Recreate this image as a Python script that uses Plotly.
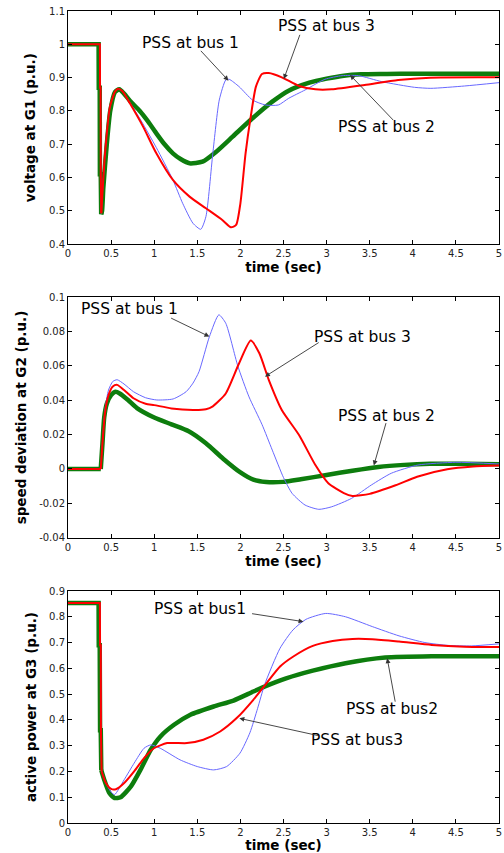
import plotly.graph_objects as go

# ---------------- data ----------------
# Panel 1: voltage at G1 (p.u.)
v_t_bus2 = [0, 0.355, 0.357, 0.368, 0.370, 0.38, 0.385, 0.395, 0.41, 0.45, 0.49, 0.545, 0.595, 0.65,
            0.72, 0.833, 0.93, 1.025, 1.12, 1.217, 1.31, 1.41, 1.56, 1.72, 1.91, 2.14, 2.37, 2.56,
            2.8, 3.0, 3.2, 3.4, 3.7, 4.0, 4.5, 5.0]
v_bus2 = [1.0, 1.0, 0.87, 0.87, 0.61, 0.61, 0.49, 0.50, 0.57, 0.70, 0.80, 0.857, 0.865, 0.852,
          0.83, 0.80, 0.768, 0.733, 0.70, 0.673, 0.655, 0.643, 0.648, 0.678, 0.723, 0.778, 0.828, 0.861,
          0.885, 0.897, 0.906, 0.91, 0.911, 0.912, 0.912, 0.912]

v_t_bus3 = [0, 0.37, 0.372, 0.378, 0.38, 0.386, 0.392, 0.43, 0.487, 0.545, 0.58, 0.63, 0.718, 0.871,
            1.025, 1.217, 1.41, 1.6, 1.79, 1.89, 1.95, 2.0, 2.06, 2.12, 2.18, 2.25, 2.33, 2.48,
            2.68, 2.87, 3.06, 3.44, 3.83, 4.2, 5.0]
v_bus3 = [1.0, 1.0, 0.87, 0.87, 0.61, 0.493, 0.52, 0.674, 0.813, 0.858, 0.867, 0.86, 0.823, 0.753,
          0.673, 0.593, 0.543, 0.508, 0.473, 0.451, 0.458, 0.523, 0.673, 0.783, 0.873, 0.911, 0.914, 0.901,
          0.875, 0.865, 0.865, 0.878, 0.893, 0.9, 0.901]

v_t_bus1 = [0, 0.37, 0.372, 0.378, 0.38, 0.386, 0.392, 0.43, 0.487, 0.545, 0.58, 0.63, 0.718, 0.85,
            1.025, 1.217, 1.33, 1.45, 1.54, 1.6, 1.68, 1.755, 1.83, 1.87, 1.985, 2.14, 2.29, 2.44,
            2.56, 2.75, 2.98, 3.18, 3.37, 3.64, 4.02, 4.21, 4.6, 5.0]
v_bus1 = [1.0, 1.0, 0.87, 0.87, 0.61, 0.493, 0.52, 0.674, 0.813, 0.858, 0.867, 0.86, 0.825, 0.77,
          0.69, 0.593, 0.523, 0.463, 0.445, 0.483, 0.673, 0.833, 0.893, 0.895, 0.873, 0.833, 0.818, 0.818,
          0.838, 0.863, 0.895, 0.906, 0.906, 0.888, 0.871, 0.868, 0.875, 0.885]

# Panel 2: speed deviation at G2 (p.u.)
s_t_bus2 = [0, 0.38, 0.40, 0.42, 0.45, 0.5, 0.55, 0.6, 0.7, 0.8, 1.0, 1.2, 1.4, 1.6, 1.8, 2.0,
            2.15, 2.3, 2.5, 2.7, 3.0, 3.3, 3.6, 3.9, 4.2, 4.6, 5.0]
s_bus2 = [0, 0, 0.015, 0.03, 0.038, 0.043, 0.045, 0.044, 0.040, 0.0355, 0.030, 0.026, 0.022, 0.015,
          0.006, -0.002, -0.0062, -0.0076, -0.0075, -0.006, -0.0035, -0.001, 0.0012, 0.0024, 0.003,
          0.003, 0.0027]

s_t_bus3 = [0, 0.38, 0.40, 0.43, 0.47, 0.52, 0.57, 0.65, 0.76, 0.9, 1.0, 1.2, 1.45, 1.6, 1.68, 1.83,
            1.98, 2.12, 2.22, 2.33, 2.48, 2.68, 2.87, 3.02, 3.2, 3.3, 3.5, 3.8, 4.05, 4.4, 4.7, 5.0]
s_bus3 = [0, 0, 0.015, 0.033, 0.043, 0.048, 0.049, 0.046, 0.0412, 0.038, 0.0372, 0.0353, 0.0344,
          0.0348, 0.0365, 0.044, 0.061, 0.0748, 0.0674, 0.0518, 0.0344, 0.0198, 0.0023, -0.0083,
          -0.014, -0.0157, -0.0145, -0.0095, -0.0045, -0.0002, 0.0014, 0.002]

s_t_bus1 = [0, 0.38, 0.40, 0.43, 0.47, 0.52, 0.57, 0.65, 0.76, 0.9, 1.03, 1.22, 1.37, 1.45, 1.52,
            1.64, 1.75, 1.83, 1.97, 2.1, 2.25, 2.37, 2.5, 2.6, 2.75, 2.91, 3.06, 3.29, 3.52, 3.75,
            4.06, 4.5, 5.0]
s_bus1 = [0, 0, 0.016, 0.035, 0.046, 0.051, 0.052, 0.0495, 0.045, 0.0415, 0.0402, 0.0408, 0.045,
          0.050, 0.0567, 0.077, 0.0898, 0.0849, 0.060, 0.042, 0.026, 0.011, -0.005, -0.0142, -0.021,
          -0.0235, -0.022, -0.0171, -0.0093, -0.0025, 0.0023, 0.0039, 0.0029]

# Panel 3: active power at G3 (p.u.)
p_t_bus2 = [0, 0.355, 0.357, 0.368, 0.372, 0.38, 0.386, 0.42, 0.48, 0.54, 0.61, 0.73, 0.84, 0.96,
            1.07, 1.23, 1.42, 1.69, 1.92, 2.15, 2.3, 2.53, 2.84, 3.22, 3.68, 4.22, 5.0]
p_bus2 = [0.853, 0.853, 0.69, 0.69, 0.36, 0.36, 0.205, 0.168, 0.116, 0.097, 0.1, 0.142, 0.206,
          0.284, 0.335, 0.381, 0.42, 0.452, 0.475, 0.51, 0.532, 0.561, 0.591, 0.62, 0.642, 0.647, 0.647]

p_t_bus3 = [0, 0.37, 0.372, 0.38, 0.382, 0.39, 0.44, 0.5, 0.556, 0.652, 0.767, 0.882, 0.997, 1.15,
            1.38, 1.57, 1.765, 1.957, 2.15, 2.3, 2.46, 2.61, 2.84, 3.07, 3.3, 3.53, 3.84, 4.22, 4.6, 5.0]
p_bus3 = [0.853, 0.853, 0.69, 0.69, 0.36, 0.2, 0.155, 0.132, 0.131, 0.155, 0.2, 0.252, 0.29, 0.31,
          0.31, 0.323, 0.355, 0.407, 0.478, 0.541, 0.607, 0.645, 0.687, 0.706, 0.714, 0.713, 0.704,
          0.691, 0.684, 0.683]

p_t_bus1 = [0, 0.37, 0.372, 0.38, 0.382, 0.39, 0.44, 0.5, 0.54, 0.652, 0.767, 0.882, 0.96, 1.07,
            1.3, 1.5, 1.69, 1.84, 1.995, 2.11, 2.2, 2.28, 2.46, 2.61, 2.76, 2.99, 3.22, 3.53, 3.84,
            4.14, 4.41, 4.68, 5.0]
p_bus1 = [0.853, 0.853, 0.69, 0.69, 0.36, 0.2, 0.155, 0.12, 0.11, 0.168, 0.232, 0.29, 0.303, 0.29,
          0.245, 0.219, 0.206, 0.219, 0.271, 0.35, 0.445, 0.536, 0.678, 0.749, 0.79, 0.813, 0.8,
          0.762, 0.726, 0.7, 0.689, 0.687, 0.695]

x_ticks = [0, 0.5, 1, 1.5, 2, 2.5, 3, 3.5, 4, 4.5, 5]
y1_ticks = [0.4, 0.5, 0.6, 0.7, 0.8, 0.9, 1, 1.1]
y2_ticks = [-0.04, -0.02, 0, 0.02, 0.04, 0.06, 0.08, 0.1]
y2_ticktext = ["-0.04", "-0.02", "0", "0.02", "0.04", "0.06", "0.08", "0.1"]
y3_ticks = [0, 0.1, 0.2, 0.3, 0.4, 0.5, 0.6, 0.7, 0.8, 0.9]

# annotations: (panel, text, text_x, text_y, tail_x, tail_y, head_x, head_y)
labels = [
    (1, "PSS at bus 1", 1.417, 1.003, 1.525, 0.985, 1.862, 0.891),
    (1, "PSS at bus 3", 3.003, 1.055, 2.696, 1.033, 2.504, 0.896),
    (1, "PSS at bus 2", 3.694, 0.753, 3.79, 0.768, 3.272, 0.908),
    (2, "PSS at bus 1", 0.718, 0.093, 1.179, 0.0883, 1.64, 0.0771),
    (2, "PSS at bus 3", 3.418, 0.0767, 2.926, 0.0742, 2.285, 0.0538),
    (2, "PSS at bus 2", 3.694, 0.0309, 3.694, 0.0276, 3.548, 0.0021),
    (3, "PSS at bus1", 1.535, 0.829, 2.118, 0.813, 2.732, 0.781),
    (3, "PSS at bus2", 3.753, 0.443, 3.799, 0.465, 3.703, 0.639),
    (3, "PSS at bus3", 3.358, 0.322, 2.916, 0.338, 1.988, 0.406),
]

# ---------------- styles ----------------
GREEN = "#0d7d0d"
RED = "#ff0000"
BLUE = "#6868ff"
W_G, W_R, W_B = 4.5, 2.0, 1.0

fig = go.Figure()

# (t, v, colour, width, name, index where the fault step ends -> smooth part begins)
panels = [
    (1, [(v_t_bus2, v_bus2, GREEN, W_G, "PSS at bus 2", 6),
         (v_t_bus1, v_bus1, BLUE, W_B, "PSS at bus 1", 5),
         (v_t_bus3, v_bus3, RED, W_R, "PSS at bus 3", 5)]),
    (2, [(s_t_bus2, s_bus2, GREEN, W_G, "PSS at bus 2", 1),
         (s_t_bus1, s_bus1, BLUE, W_B, "PSS at bus 1", 1),
         (s_t_bus3, s_bus3, RED, W_R, "PSS at bus 3", 1)]),
    (3, [(p_t_bus2, p_bus2, GREEN, W_G, "PSS at bus 2", 6),
         (p_t_bus1, p_bus1, BLUE, W_B, "PSS at bus 1", 5),
         (p_t_bus3, p_bus3, RED, W_R, "PSS at bus 3", 5)]),
]

for k, series in panels:
    suffix = "" if k == 1 else str(k)
    for t, v, c, w, name, split in series:
        # step (pre-fault and fault drop) drawn with straight segments
        fig.add_trace(go.Scatter(x=t[:split + 1], y=v[:split + 1], mode="lines", name=name,
                                 line=dict(color=c, width=w, shape="linear"),
                                 xaxis="x" + suffix, yaxis="y" + suffix, showlegend=False))
        # smooth recovery
        fig.add_trace(go.Scatter(x=t[split:], y=v[split:], mode="lines", name=name,
                                 line=dict(color=c, width=w, shape="spline", smoothing=0.6),
                                 xaxis="x" + suffix, yaxis="y" + suffix, showlegend=False))

TICKFONT = dict(family="DejaVu Sans", size=10, color="#222222")
TITLEFONT = dict(family="DejaVu Sans", size=13.5, color="#000000", weight="bold")
LBLFONT = dict(family="DejaVu Sans", size=15.5, color="#000000")

domains = {1: [0.7127, 1.0], 2: [0.3514, 0.6474], 3: [0.0, 0.2857]}
yinfo = {
    1: dict(range=[0.4, 1.1], tickvals=y1_ticks, ticktext=[f"{v:g}" for v in y1_ticks],
            title="voltage at G1 (p.u.)", standoff=10),
    2: dict(range=[-0.04, 0.1], tickvals=y2_ticks, ticktext=y2_ticktext,
            title="speed deviation at G2 (p.u.)", standoff=9),
    3: dict(range=[0, 0.9], tickvals=y3_ticks, ticktext=[f"{v:g}" for v in y3_ticks],
            title="active power at G3 (p.u.)", standoff=9),
}

layout_axes = {}
for k in (1, 2, 3):
    suffix = "" if k == 1 else str(k)
    layout_axes["xaxis" + suffix] = dict(
        domain=[0, 1], anchor="y" + suffix, range=[0, 5],
        tickvals=x_ticks, ticktext=[f"{v:g}" for v in x_ticks],
        ticks="inside", ticklen=4, tickcolor="#000", mirror="ticks",
        showline=True, linecolor="#000", linewidth=1, showgrid=False, zeroline=False,
        tickfont=TICKFONT, automargin=True, ticklabeloverflow="allow",
        title=dict(text="time (sec)", font=TITLEFONT, standoff=4),
    )
    yi = yinfo[k]
    layout_axes["yaxis" + suffix] = dict(
        domain=domains[k], anchor="x" + suffix, range=yi["range"],
        tickvals=yi["tickvals"], ticktext=yi["ticktext"],
        ticks="inside", ticklen=4, tickcolor="#000", mirror="ticks",
        showline=True, linecolor="#000", linewidth=1, showgrid=False, zeroline=False,
        tickfont=TICKFONT, automargin=True,
        title=dict(text=yi["title"], font=TITLEFONT, standoff=yi["standoff"]),
    )

annotations = []
for k, text, tx, ty, ax_, ay_, hx, hy in labels:
    suffix = "" if k == 1 else str(k)
    xr, yr = "x" + suffix, "y" + suffix
    annotations.append(dict(x=tx, y=ty, xref=xr, yref=yr, text=text, showarrow=False,
                            font=LBLFONT, xanchor="center", yanchor="middle"))
    annotations.append(dict(x=hx, y=hy, xref=xr, yref=yr, ax=ax_, ay=ay_, axref=xr, ayref=yr,
                            text="", showarrow=True, arrowhead=2, arrowsize=1.1, arrowwidth=0.9,
                            arrowcolor="#333333", standoff=0, startstandoff=0))

fig.update_layout(
    width=504, height=853,
    margin=dict(l=68, r=2, t=11, b=30),
    paper_bgcolor="white", plot_bgcolor="white",
    annotations=annotations,
    **layout_axes,
)

fig.write_html("out.html")
